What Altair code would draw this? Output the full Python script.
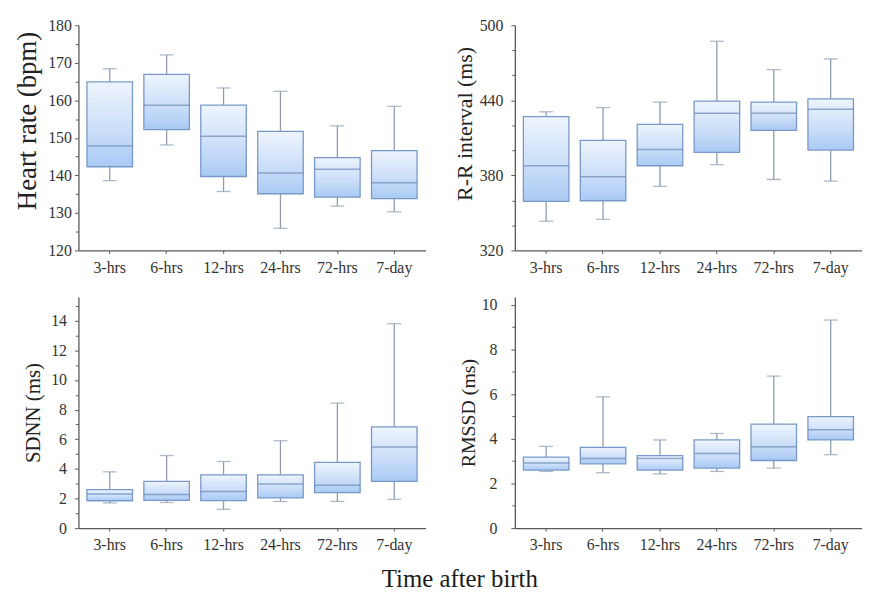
import altair as alt
import pandas as pd

categories = ["3-hrs", "6-hrs", "12-hrs", "24-hrs", "72-hrs", "7-day"]

# Heart rate (bpm)
hr_low = [138.6, 148.1, 135.7, 125.9, 131.8, 130.3]
hr_q1 = [142.3, 152.2, 139.7, 135.1, 134.2, 133.8]
hr_med = [147.8, 158.7, 150.4, 140.6, 141.6, 138.0]
hr_q3 = [164.9, 166.9, 158.7, 151.7, 144.7, 146.6]
hr_high = [168.4, 172.1, 163.3, 162.4, 153.2, 158.4]

# R-R interval (ms)
rr_low = [343.3, 344.8, 371.2, 388.5, 376.7, 375.4]
rr_q1 = [359.2, 359.7, 387.7, 398.4, 415.9, 400.2]
rr_med = [387.7, 378.8, 400.7, 429.7, 429.7, 432.9]
rr_q3 = [426.9, 408.0, 420.8, 439.4, 438.6, 441.2]
rr_high = [430.8, 434.2, 438.6, 487.2, 464.5, 473.1]

# SDNN (ms)
sdnn_low = [1.70, 1.73, 1.27, 1.80, 1.80, 1.94]
sdnn_q1 = [1.85, 1.88, 1.86, 2.04, 2.40, 3.16]
sdnn_med = [2.30, 2.27, 2.47, 2.98, 2.90, 5.48]
sdnn_q3 = [2.60, 3.15, 3.60, 3.60, 4.44, 6.84]
sdnn_high = [3.80, 4.90, 4.50, 5.90, 8.44, 13.8]

# RMSSD (ms)
rmssd_low = [2.54, 2.48, 2.43, 2.54, 2.69, 3.29]
rmssd_q1 = [2.60, 2.88, 2.60, 2.69, 3.03, 3.95]
rmssd_med = [2.92, 3.12, 3.12, 3.34, 3.64, 4.41]
rmssd_q3 = [3.18, 3.62, 3.25, 3.95, 4.66, 4.99]
rmssd_high = [3.66, 5.88, 3.95, 4.24, 6.81, 9.32]

FONT = "Liberation Serif"
W = 350
PAD_IN, PAD_OUT = 0.2, 0.15
STEP = W / (len(categories) - PAD_IN + 2 * PAD_OUT)
BAND = STEP * (1 - PAD_IN)

GRAD = alt.LinearGradient(
    gradient="linear",
    stops=[
        alt.GradientStop(color="#eef4fd", offset=0),
        alt.GradientStop(color="#c9ddf8", offset=0.6),
        alt.GradientStop(color="#a9caf4", offset=1),
    ],
    x1=0, x2=0, y1=0, y2=1,
)


def panel(low, q1, med, q3, high, title, domain, t0, major, minor, top_tick,
          title_size, label_pad, title_pad, height, title_y=None):
    df = pd.DataFrame({"cat": categories, "low": low, "q1": q1, "med": med,
                       "q3": q3, "high": high})
    ticks = []
    v = t0
    while v <= top_tick + 1e-9:
        ticks.append(v)
        v += minor
    is_major = f"abs((datum.value - {t0}) % {major}) < 1e-6"
    scale_y = alt.Scale(domain=domain, nice=False, zero=False)
    x = alt.X("cat:N", sort=categories, title=None,
              scale=alt.Scale(paddingInner=PAD_IN, paddingOuter=PAD_OUT),
              axis=alt.Axis(labelAngle=0, tickSize=3, labelPadding=6,
                            labelFontSize=16))
    axis_kw = dict(values=ticks, labelExpr=f"{is_major} ? datum.label : ''",
                   tickSize={"condition": {"test": is_major, "value": 4}, "value": 3},
                   labelPadding=label_pad, titlePadding=title_pad,
                   titleFontSize=title_size, labelFontSize=16, title=title)
    if title_y is not None:
        axis_kw["titleY"] = title_y
    y_axis = alt.Axis(**axis_kw)
    base = alt.Chart(df)
    whisk = base.mark_rule(color="#8d9cb2", strokeWidth=1.3).encode(
        x=x, y=alt.Y("low:Q", scale=scale_y, axis=y_axis), y2="high:Q")
    cap_lo = base.mark_tick(color="#8d9cb2", size=14, thickness=1.3).encode(
        x=x, y=alt.Y("low:Q", scale=scale_y, axis=y_axis))
    cap_hi = base.mark_tick(color="#8d9cb2", size=14, thickness=1.3).encode(
        x=x, y=alt.Y("high:Q", scale=scale_y, axis=y_axis))
    box = base.mark_bar(fill=GRAD, stroke="#7899c8", strokeWidth=1.3).encode(
        x=x, y=alt.Y("q1:Q", scale=scale_y, axis=y_axis), y2="q3:Q")
    mid = base.mark_tick(color="#6d8cb8", size=BAND, thickness=1.5).encode(
        x=x, y=alt.Y("med:Q", scale=scale_y, axis=y_axis))
    return alt.layer(whisk, cap_lo, cap_hi, box, mid).properties(width=W, height=height)


p1 = panel(hr_low, hr_q1, hr_med, hr_q3, hr_high, "Heart rate (bpm)",
           [120, 180], 120, 10, 5, 180, 27, 3, 6, 227, title_y=96)
p2 = panel(rr_low, rr_q1, rr_med, rr_q3, rr_high, "R-R interval (ms)",
           [320, 500], 320, 60, 20, 500, 22, 8, 3, 227, title_y=99)
p3 = panel(sdnn_low, sdnn_q1, sdnn_med, sdnn_q3, sdnn_high, "SDNN (ms)",
           [0, 15.6], 0, 2, 1, 15, 21, 8, 7, 233)
p4 = panel(rmssd_low, rmssd_q1, rmssd_med, rmssd_q3, rmssd_high, "RMSSD (ms)",
           [0, 10.35], 0, 2, 1, 10, 20, 14, 3, 233)

chart = alt.concat(p1, p2, p3, p4, columns=2, spacing={"row": 21, "column": 28}).properties(
    padding={"left": 6, "top": 7, "right": 0, "bottom": 0},
    title=alt.TitleParams("Time after birth", orient="bottom", anchor="middle",
                          fontSize=25, font=FONT, fontWeight="normal",
                          color="#1a1a1a", offset=14, dx=22),
).configure_view(stroke=None).configure_axis(
    labelFont=FONT, titleFont=FONT, titleFontWeight="normal",
    labelColor="#333333", titleColor="#222222",
    domainColor="#5a5a5a", domainWidth=1.3, tickColor="#5a5a5a",
    tickWidth=1, grid=False,
)

chart.save("out.html", embed_options={"renderer": "svg", "actions": False})
